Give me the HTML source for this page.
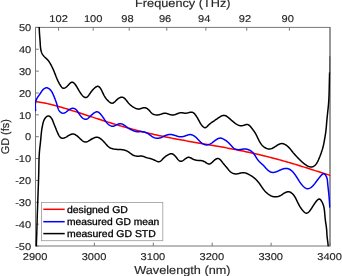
<!DOCTYPE html>
<html><head><meta charset="utf-8"><style>
html,body{margin:0;padding:0;background:#fff;width:342px;height:276px;overflow:hidden}
svg{display:block;will-change:transform;text-rendering:geometricPrecision;font-family:"Liberation Sans", sans-serif}
</style></head><body>
<svg width="342" height="276" viewBox="0 0 342 276">
<rect width="342" height="276" fill="#fff"/>
<defs><clipPath id="c"><rect x="35.0" y="26.9" width="295.5" height="219.6"/></clipPath></defs>
<g stroke="#777" stroke-width="1" fill="none">
<path d="M35.5,27.4 H330.0 M35.5,246.0 H330.0 M35.5,27.4 V246.0"/>
<path d="M330.0,26.9 V246.5" stroke-width="1.5"/>
<path d="M35.5,246.00 h3.3 M35.5,224.14 h3.3 M35.5,202.28 h3.3 M35.5,180.42 h3.3 M35.5,158.56 h3.3 M35.5,136.70 h3.3 M35.5,114.84 h3.3 M35.5,92.98 h3.3 M35.5,71.12 h3.3 M35.5,49.26 h3.3 M35.5,27.40 h3.3 M35.50,246.0 v-3.3 M94.40,246.0 v-3.3 M153.30,246.0 v-3.3 M212.20,246.0 v-3.3 M271.10,246.0 v-3.3 M330.00,246.0 v-3.3 M58.55,27.4 v3.3 M93.18,27.4 v3.3 M129.21,27.4 v3.3 M166.75,27.4 v3.3 M205.89,27.4 v3.3 M246.72,27.4 v3.3 M289.38,27.4 v3.3 "/>
</g>
<g clip-path="url(#c)" fill="none" stroke-width="1.5" stroke-linejoin="round" stroke-linecap="round">
<path d="M39.20,27.40 L39.22,27.90 L39.24,28.40 L39.26,28.90 L39.29,29.40 L39.31,29.90 L39.33,30.40 L39.36,30.89 L39.38,31.39 L39.41,31.89 L39.44,32.39 L39.46,32.89 L39.49,33.39 L39.52,33.89 L39.56,34.39 L39.59,34.89 L39.63,35.38 L39.67,35.88 L39.71,36.38 L39.75,36.88 L39.79,37.38 L39.83,37.87 L39.87,38.37 L39.91,38.87 L39.95,39.37 L39.99,39.87 L40.02,40.37 L40.06,40.86 L40.09,41.36 L40.12,41.86 L40.15,42.36 L40.18,42.86 L40.20,43.36 L40.23,43.86 L40.26,44.35 L40.29,44.85 L40.32,45.35 L40.36,45.85 L40.40,46.35 L40.44,46.85 L40.49,47.34 L40.55,47.84 L40.61,48.34 L40.69,48.83 L40.77,49.33 L40.86,49.82 L40.96,50.32 L41.08,50.81 L41.21,51.29 L41.35,51.78 L41.51,52.25 L41.69,52.72 L41.89,53.18 L42.11,53.62 L42.35,54.06 L42.61,54.49 L42.89,54.90 L43.19,55.30 L43.50,55.69 L43.83,56.08 L44.16,56.45 L44.51,56.81 L44.86,57.17 L45.22,57.52 L45.59,57.87 L45.95,58.21 L46.31,58.56 L46.67,58.90 L47.03,59.26 L47.37,59.61 L47.71,59.98 L48.04,60.35 L48.36,60.73 L48.66,61.13 L48.96,61.53 L49.24,61.94 L49.52,62.36 L49.78,62.79 L50.04,63.22 L50.30,63.65 L50.55,64.08 L50.79,64.52 L51.03,64.96 L51.27,65.40 L51.50,65.84 L51.72,66.29 L51.95,66.73 L52.17,67.18 L52.38,67.63 L52.59,68.08 L52.80,68.54 L53.01,68.99 L53.21,69.45 L53.41,69.91 L53.61,70.37 L53.81,70.83 L54.00,71.30 L54.19,71.76 L54.38,72.23 L54.56,72.70 L54.75,73.17 L54.93,73.64 L55.12,74.11 L55.30,74.58 L55.48,75.05 L55.67,75.52 L55.85,75.99 L56.03,76.46 L56.22,76.92 L56.41,77.39 L56.59,77.85 L56.78,78.31 L56.98,78.76 L57.17,79.21 L57.37,79.66 L57.57,80.11 L57.77,80.55 L57.97,80.98 L58.19,81.41 L58.40,81.84 L58.62,82.27 L58.85,82.70 L59.09,83.14 L59.33,83.57 L59.59,84.01 L59.85,84.45 L60.12,84.90 L60.41,85.36 L60.71,85.82 L61.02,86.28 L61.34,86.73 L61.68,87.15 L62.03,87.52 L62.40,87.83 L62.78,88.07 L63.18,88.22 L63.59,88.28 L64.02,88.24 L64.45,88.13 L64.90,87.94 L65.35,87.69 L65.80,87.39 L66.26,87.04 L66.71,86.65 L67.15,86.24 L67.59,85.81 L68.02,85.37 L68.44,84.92 L68.85,84.48 L69.25,84.06 L69.64,83.66 L70.03,83.29 L70.42,82.96 L70.80,82.68 L71.18,82.46 L71.55,82.30 L71.93,82.21 L72.31,82.21 L72.69,82.29 L73.07,82.44 L73.45,82.67 L73.82,82.96 L74.19,83.29 L74.56,83.68 L74.92,84.10 L75.27,84.55 L75.61,85.02 L75.94,85.51 L76.26,86.00 L76.57,86.49 L76.86,86.96 L77.14,87.43 L77.40,87.88 L77.66,88.32 L77.91,88.75 L78.15,89.17 L78.39,89.59 L78.62,90.00 L78.86,90.41 L79.10,90.82 L79.34,91.22 L79.59,91.63 L79.85,92.04 L80.12,92.45 L80.40,92.87 L80.69,93.30 L81.00,93.73 L81.33,94.18 L81.68,94.63 L82.05,95.08 L82.43,95.51 L82.82,95.93 L83.22,96.32 L83.62,96.68 L84.04,96.99 L84.45,97.25 L84.86,97.44 L85.28,97.56 L85.68,97.60 L86.08,97.56 L86.47,97.43 L86.86,97.22 L87.23,96.95 L87.60,96.62 L87.96,96.25 L88.31,95.83 L88.65,95.39 L88.99,94.93 L89.32,94.45 L89.64,93.98 L89.96,93.51 L90.26,93.06 L90.56,92.63 L90.86,92.22 L91.16,91.82 L91.45,91.44 L91.75,91.06 L92.06,90.69 L92.37,90.33 L92.70,89.96 L93.04,89.59 L93.39,89.21 L93.77,88.83 L94.16,88.44 L94.56,88.06 L94.98,87.69 L95.40,87.34 L95.83,87.03 L96.26,86.76 L96.68,86.54 L97.10,86.39 L97.51,86.31 L97.91,86.31 L98.29,86.39 L98.66,86.54 L99.02,86.76 L99.37,87.05 L99.70,87.38 L100.03,87.77 L100.34,88.20 L100.65,88.66 L100.94,89.15 L101.23,89.67 L101.51,90.20 L101.78,90.75 L102.04,91.30 L102.30,91.85 L102.55,92.39 L102.80,92.91 L103.04,93.42 L103.28,93.91 L103.52,94.39 L103.76,94.85 L103.99,95.30 L104.23,95.73 L104.47,96.16 L104.72,96.57 L104.97,96.98 L105.23,97.37 L105.50,97.76 L105.77,98.15 L106.06,98.53 L106.36,98.91 L106.67,99.28 L107.00,99.65 L107.34,100.02 L107.69,100.40 L108.07,100.77 L108.46,101.15 L108.88,101.52 L109.30,101.87 L109.73,102.21 L110.17,102.50 L110.61,102.76 L111.06,102.97 L111.49,103.11 L111.93,103.19 L112.35,103.19 L112.76,103.11 L113.16,102.96 L113.55,102.76 L113.94,102.49 L114.33,102.19 L114.72,101.84 L115.11,101.47 L115.50,101.08 L115.90,100.67 L116.30,100.26 L116.71,99.85 L117.14,99.45 L117.58,99.08 L118.03,98.72 L118.49,98.39 L118.95,98.10 L119.42,97.83 L119.89,97.61 L120.37,97.43 L120.83,97.29 L121.29,97.20 L121.75,97.17 L122.19,97.19 L122.62,97.26 L123.03,97.40 L123.44,97.59 L123.83,97.82 L124.21,98.10 L124.59,98.42 L124.95,98.76 L125.31,99.14 L125.67,99.54 L126.01,99.95 L126.36,100.38 L126.70,100.82 L127.04,101.26 L127.38,101.70 L127.72,102.13 L128.06,102.55 L128.40,102.96 L128.75,103.35 L129.10,103.72 L129.46,104.08 L129.82,104.43 L130.18,104.77 L130.55,105.09 L130.93,105.41 L131.32,105.71 L131.71,106.00 L132.11,106.29 L132.52,106.57 L132.94,106.85 L133.36,107.12 L133.80,107.38 L134.25,107.64 L134.71,107.89 L135.18,108.12 L135.65,108.34 L136.13,108.53 L136.61,108.70 L137.10,108.83 L137.58,108.94 L138.07,109.00 L138.56,109.02 L139.05,108.99 L139.54,108.92 L140.03,108.81 L140.51,108.67 L141.00,108.51 L141.48,108.35 L141.97,108.18 L142.45,108.02 L142.93,107.89 L143.42,107.78 L143.91,107.72 L144.40,107.70 L144.89,107.74 L145.38,107.84 L145.86,107.99 L146.33,108.18 L146.79,108.41 L147.23,108.67 L147.66,108.97 L148.06,109.29 L148.43,109.63 L148.79,109.98 L149.14,110.35 L149.47,110.73 L149.80,111.11 L150.13,111.49 L150.46,111.87 L150.79,112.24 L151.13,112.60 L151.49,112.94 L151.86,113.26 L152.25,113.56 L152.67,113.84 L153.10,114.08 L153.56,114.30 L154.03,114.49 L154.52,114.65 L155.01,114.78 L155.51,114.88 L156.02,114.95 L156.52,114.99 L157.02,115.00 L157.52,114.98 L158.02,114.93 L158.51,114.86 L159.00,114.77 L159.49,114.65 L159.97,114.52 L160.46,114.38 L160.94,114.22 L161.43,114.06 L161.91,113.89 L162.40,113.72 L162.88,113.56 L163.37,113.43 L163.85,113.32 L164.34,113.24 L164.82,113.20 L165.30,113.21 L165.79,113.27 L166.27,113.36 L166.76,113.48 L167.24,113.63 L167.73,113.79 L168.22,113.96 L168.71,114.14 L169.20,114.31 L169.69,114.46 L170.18,114.61 L170.67,114.74 L171.16,114.85 L171.65,114.93 L172.14,114.99 L172.63,115.01 L173.11,115.00 L173.60,114.95 L174.08,114.86 L174.55,114.74 L175.03,114.60 L175.50,114.43 L175.98,114.25 L176.45,114.06 L176.93,113.87 L177.41,113.68 L177.89,113.49 L178.37,113.31 L178.85,113.15 L179.34,113.00 L179.83,112.88 L180.31,112.78 L180.80,112.72 L181.29,112.70 L181.78,112.72 L182.27,112.76 L182.76,112.83 L183.25,112.92 L183.75,113.01 L184.24,113.09 L184.75,113.15 L185.25,113.19 L185.76,113.20 L186.27,113.17 L186.79,113.09 L187.31,112.99 L187.82,112.87 L188.34,112.74 L188.85,112.60 L189.36,112.47 L189.87,112.34 L190.36,112.25 L190.85,112.18 L191.32,112.14 L191.79,112.16 L192.23,112.23 L192.67,112.36 L193.08,112.56 L193.48,112.81 L193.87,113.11 L194.24,113.46 L194.60,113.84 L194.94,114.24 L195.27,114.67 L195.59,115.10 L195.90,115.54 L196.20,115.98 L196.48,116.42 L196.76,116.86 L197.03,117.29 L197.29,117.72 L197.55,118.15 L197.80,118.58 L198.04,119.01 L198.28,119.44 L198.52,119.87 L198.75,120.29 L198.98,120.72 L199.21,121.14 L199.44,121.57 L199.66,121.99 L199.89,122.41 L200.13,122.83 L200.38,123.25 L200.63,123.67 L200.90,124.08 L201.18,124.50 L201.49,124.91 L201.81,125.32 L202.15,125.73 L202.53,126.13 L202.92,126.53 L203.34,126.90 L203.77,127.22 L204.20,127.47 L204.64,127.64 L205.08,127.70 L205.50,127.64 L205.92,127.48 L206.32,127.23 L206.72,126.90 L207.12,126.53 L207.51,126.13 L207.90,125.72 L208.29,125.31 L208.67,124.93 L209.06,124.56 L209.45,124.22 L209.84,123.89 L210.23,123.58 L210.62,123.28 L211.01,122.99 L211.40,122.70 L211.79,122.43 L212.18,122.15 L212.58,121.88 L212.97,121.61 L213.37,121.34 L213.76,121.07 L214.16,120.80 L214.57,120.53 L214.97,120.25 L215.38,119.97 L215.79,119.69 L216.21,119.40 L216.63,119.11 L217.05,118.82 L217.48,118.53 L217.92,118.23 L218.36,117.92 L218.81,117.61 L219.26,117.31 L219.72,117.01 L220.18,116.72 L220.64,116.45 L221.11,116.20 L221.57,115.97 L222.04,115.77 L222.51,115.61 L222.97,115.48 L223.44,115.40 L223.90,115.37 L224.36,115.38 L224.81,115.46 L225.26,115.58 L225.71,115.76 L226.15,115.97 L226.58,116.22 L227.01,116.51 L227.44,116.81 L227.85,117.14 L228.27,117.47 L228.67,117.82 L229.07,118.16 L229.47,118.51 L229.85,118.84 L230.24,119.18 L230.62,119.51 L230.99,119.84 L231.37,120.16 L231.74,120.49 L232.11,120.81 L232.49,121.13 L232.86,121.44 L233.24,121.76 L233.62,122.07 L234.01,122.38 L234.40,122.70 L234.79,123.01 L235.19,123.31 L235.60,123.62 L236.02,123.91 L236.44,124.19 L236.87,124.45 L237.31,124.70 L237.76,124.92 L238.21,125.12 L238.68,125.30 L239.15,125.44 L239.63,125.56 L240.12,125.64 L240.61,125.69 L241.11,125.71 L241.62,125.70 L242.13,125.66 L242.64,125.59 L243.15,125.49 L243.66,125.36 L244.17,125.20 L244.67,125.04 L245.17,124.87 L245.67,124.72 L246.15,124.60 L246.63,124.51 L247.09,124.48 L247.55,124.51 L247.98,124.61 L248.41,124.78 L248.82,125.02 L249.21,125.30 L249.60,125.63 L249.97,126.00 L250.34,126.40 L250.69,126.81 L251.04,127.24 L251.38,127.68 L251.71,128.11 L252.04,128.54 L252.36,128.96 L252.67,129.37 L252.98,129.78 L253.28,130.18 L253.57,130.58 L253.86,130.97 L254.14,131.37 L254.41,131.77 L254.68,132.17 L254.94,132.58 L255.20,132.99 L255.44,133.41 L255.69,133.84 L255.92,134.27 L256.16,134.70 L256.38,135.14 L256.61,135.59 L256.83,136.04 L257.05,136.49 L257.27,136.94 L257.48,137.40 L257.70,137.85 L257.92,138.31 L258.14,138.76 L258.36,139.22 L258.58,139.67 L258.81,140.12 L259.04,140.57 L259.27,141.02 L259.51,141.46 L259.75,141.89 L260.01,142.32 L260.27,142.75 L260.54,143.17 L260.82,143.58 L261.11,143.99 L261.41,144.39 L261.72,144.78 L262.05,145.16 L262.40,145.53 L262.76,145.89 L263.13,146.24 L263.53,146.58 L263.94,146.91 L264.36,147.22 L264.80,147.51 L265.25,147.78 L265.71,148.03 L266.18,148.26 L266.65,148.46 L267.13,148.63 L267.62,148.78 L268.10,148.89 L268.59,148.96 L269.07,149.00 L269.55,149.00 L270.03,148.96 L270.50,148.88 L270.97,148.76 L271.44,148.62 L271.90,148.44 L272.37,148.24 L272.82,148.02 L273.28,147.78 L273.74,147.52 L274.19,147.24 L274.65,146.96 L275.10,146.67 L275.55,146.38 L276.01,146.08 L276.46,145.79 L276.91,145.50 L277.37,145.22 L277.82,144.95 L278.28,144.70 L278.74,144.46 L279.19,144.25 L279.65,144.06 L280.11,143.90 L280.57,143.77 L281.03,143.67 L281.50,143.61 L281.96,143.59 L282.43,143.62 L282.90,143.69 L283.37,143.80 L283.83,143.95 L284.30,144.13 L284.76,144.34 L285.21,144.58 L285.66,144.85 L286.10,145.14 L286.53,145.44 L286.95,145.76 L287.36,146.10 L287.76,146.44 L288.14,146.79 L288.51,147.15 L288.87,147.51 L289.22,147.87 L289.56,148.25 L289.89,148.62 L290.22,149.00 L290.53,149.38 L290.85,149.77 L291.16,150.15 L291.46,150.54 L291.77,150.93 L292.07,151.31 L292.38,151.70 L292.69,152.09 L293.00,152.47 L293.31,152.86 L293.63,153.24 L293.95,153.62 L294.28,153.99 L294.60,154.37 L294.94,154.74 L295.27,155.11 L295.61,155.48 L295.95,155.85 L296.29,156.21 L296.63,156.58 L296.98,156.94 L297.33,157.30 L297.68,157.66 L298.03,158.02 L298.38,158.38 L298.74,158.74 L299.09,159.09 L299.44,159.45 L299.80,159.80 L300.16,160.15 L300.52,160.50 L300.88,160.84 L301.25,161.19 L301.61,161.52 L301.98,161.86 L302.35,162.19 L302.73,162.52 L303.11,162.85 L303.49,163.17 L303.88,163.48 L304.27,163.79 L304.66,164.09 L305.06,164.39 L305.46,164.68 L305.88,164.96 L306.30,165.23 L306.72,165.49 L307.16,165.74 L307.61,165.97 L308.07,166.20 L308.54,166.40 L309.02,166.59 L309.50,166.75 L310.00,166.88 L310.49,166.97 L310.99,167.02 L311.48,167.02 L311.97,166.96 L312.45,166.84 L312.92,166.67 L313.38,166.46 L313.82,166.20 L314.25,165.91 L314.66,165.59 L315.05,165.25 L315.41,164.88 L315.75,164.51 L316.07,164.12 L316.37,163.71 L316.66,163.30 L316.92,162.88 L317.17,162.44 L317.41,162.00 L317.64,161.56 L317.86,161.11 L318.08,160.66 L318.29,160.20 L318.50,159.75 L318.70,159.29 L318.90,158.83 L319.10,158.37 L319.29,157.91 L319.48,157.45 L319.67,156.99 L319.86,156.53 L320.04,156.06 L320.22,155.59 L320.40,155.13 L320.57,154.66 L320.74,154.19 L320.91,153.72 L321.08,153.25 L321.25,152.78 L321.41,152.30 L321.57,151.83 L321.73,151.36 L321.89,150.88 L322.04,150.40 L322.19,149.93 L322.33,149.45 L322.48,148.97 L322.62,148.49 L322.75,148.01 L322.88,147.53 L323.01,147.04 L323.14,146.56 L323.26,146.08 L323.37,145.59 L323.49,145.10 L323.59,144.62 L323.70,144.13 L323.80,143.64 L323.90,143.15 L324.00,142.66 L324.09,142.17 L324.18,141.68 L324.27,141.18 L324.36,140.69 L324.44,140.20 L324.53,139.71 L324.61,139.21 L324.70,138.72 L324.78,138.23 L324.86,137.73 L324.95,137.24 L325.03,136.75 L325.11,136.25 L325.19,135.76 L325.27,135.27 L325.34,134.77 L325.42,134.28 L325.50,133.78 L325.57,133.29 L325.64,132.80 L325.71,132.30 L325.78,131.81 L325.84,131.31 L325.90,130.82 L325.96,130.32 L326.02,129.82 L326.07,129.33 L326.13,128.83 L326.18,128.33 L326.22,127.84 L326.27,127.34 L326.32,126.84 L326.36,126.34 L326.40,125.85 L326.44,125.35 L326.48,124.85 L326.52,124.35 L326.56,123.85 L326.60,123.35 L326.64,122.86 L326.68,122.36 L326.73,121.86 L326.77,121.36 L326.81,120.86 L326.86,120.37 L326.90,119.87 L326.95,119.37 L327.00,118.87 L327.05,118.38 L327.10,117.88 L327.15,117.38 L327.20,116.88 L327.25,116.39 L327.30,115.89 L327.36,115.39 L327.41,114.90 L327.46,114.40 L327.52,113.90 L327.57,113.40 L327.63,112.91 L327.68,112.41 L327.74,111.91 L327.79,111.42 L327.84,110.92 L327.90,110.42 L327.95,109.93 L328.00,109.43 L328.05,108.93 L328.10,108.44 L328.16,107.94 L328.21,107.44 L328.25,106.94 L328.30,106.45 L328.35,105.95 L328.39,105.45 L328.44,104.96 L328.48,104.46 L328.52,103.96 L328.56,103.46 L328.60,102.96 L328.64,102.47 L328.68,101.97 L328.71,101.47 L328.74,100.97 L328.77,100.47 L328.80,99.97 L328.83,99.48 L328.86,98.98 L328.89,98.48 L328.91,97.98 L328.93,97.48 L328.96,96.98 L328.98,96.48 L329.00,95.98 L329.02,95.48 L329.04,94.98 L329.06,94.48 L329.07,93.98 L329.09,93.48 L329.10,92.99 L329.12,92.49 L329.13,91.99 L329.15,91.49 L329.16,90.99 L329.17,90.49 L329.19,89.99 L329.20,89.49 L329.21,88.99 L329.22,88.49 L329.23,87.99 L329.25,87.49 L329.26,86.99 L329.27,86.49 L329.28,85.99 L329.29,85.49 L329.30,84.99 L329.31,84.49 L329.32,83.99 L329.33,83.49 L329.35,82.99 L329.36,82.49 L329.37,81.99 L329.38,81.49 L329.39,80.99 L329.40,80.49 L329.42,79.99 L329.43,79.49 L329.44,78.99 L329.45,78.49 L329.46,77.99 L329.48,77.49 L329.49,77.00 L329.50,76.50 L329.51,76.00 L329.53,75.50 L329.54,75.00 L329.55,74.50 L329.56,74.00 L329.58,73.50 L329.59,73.00 L329.60,72.50" stroke="#000"/>
<path d="M36.30,246.00 L36.32,245.50 L36.34,245.00 L36.36,244.50 L36.38,244.00 L36.39,243.50 L36.41,243.00 L36.43,242.50 L36.45,242.00 L36.47,241.51 L36.49,241.01 L36.51,240.51 L36.52,240.01 L36.54,239.51 L36.56,239.01 L36.58,238.51 L36.60,238.01 L36.61,237.51 L36.63,237.01 L36.65,236.51 L36.67,236.01 L36.68,235.51 L36.70,235.01 L36.72,234.51 L36.73,234.01 L36.75,233.51 L36.76,233.01 L36.78,232.52 L36.80,232.02 L36.81,231.52 L36.83,231.02 L36.84,230.52 L36.86,230.02 L36.87,229.52 L36.89,229.02 L36.90,228.52 L36.92,228.02 L36.93,227.52 L36.95,227.02 L36.96,226.52 L36.98,226.02 L36.99,225.52 L37.01,225.02 L37.02,224.52 L37.03,224.02 L37.05,223.52 L37.06,223.02 L37.08,222.52 L37.09,222.03 L37.11,221.53 L37.12,221.03 L37.14,220.53 L37.15,220.03 L37.16,219.53 L37.18,219.03 L37.19,218.53 L37.21,218.03 L37.22,217.53 L37.24,217.03 L37.25,216.53 L37.27,216.03 L37.28,215.53 L37.30,215.03 L37.31,214.53 L37.33,214.03 L37.35,213.53 L37.36,213.03 L37.38,212.53 L37.39,212.03 L37.41,211.54 L37.43,211.04 L37.44,210.54 L37.46,210.04 L37.48,209.54 L37.49,209.04 L37.51,208.54 L37.53,208.04 L37.55,207.54 L37.56,207.04 L37.58,206.54 L37.60,206.04 L37.61,205.54 L37.63,205.04 L37.65,204.54 L37.67,204.04 L37.69,203.54 L37.70,203.04 L37.72,202.54 L37.74,202.05 L37.76,201.55 L37.78,201.05 L37.79,200.55 L37.81,200.05 L37.83,199.55 L37.85,199.05 L37.87,198.55 L37.89,198.05 L37.90,197.55 L37.92,197.05 L37.94,196.55 L37.96,196.05 L37.98,195.55 L38.00,195.05 L38.02,194.55 L38.04,194.06 L38.05,193.56 L38.07,193.06 L38.09,192.56 L38.11,192.06 L38.13,191.56 L38.15,191.06 L38.17,190.56 L38.19,190.06 L38.20,189.56 L38.22,189.06 L38.24,188.56 L38.26,188.06 L38.28,187.56 L38.30,187.07 L38.31,186.57 L38.33,186.07 L38.35,185.57 L38.37,185.07 L38.38,184.57 L38.40,184.07 L38.42,183.57 L38.44,183.07 L38.45,182.57 L38.47,182.07 L38.49,181.57 L38.50,181.07 L38.52,180.57 L38.54,180.07 L38.55,179.57 L38.57,179.07 L38.58,178.58 L38.60,178.08 L38.61,177.58 L38.63,177.08 L38.64,176.58 L38.65,176.08 L38.67,175.58 L38.68,175.08 L38.69,174.58 L38.71,174.08 L38.72,173.58 L38.73,173.08 L38.74,172.58 L38.76,172.08 L38.77,171.58 L38.78,171.08 L38.79,170.58 L38.80,170.08 L38.81,169.58 L38.82,169.08 L38.83,168.58 L38.84,168.08 L38.84,167.58 L38.85,167.08 L38.86,166.58 L38.87,166.08 L38.88,165.58 L38.89,165.08 L38.90,164.58 L38.91,164.08 L38.92,163.58 L38.93,163.08 L38.94,162.58 L38.95,162.08 L38.97,161.58 L38.98,161.08 L38.99,160.58 L39.01,160.08 L39.02,159.58 L39.04,159.08 L39.06,158.58 L39.08,158.08 L39.10,157.58 L39.12,157.08 L39.14,156.58 L39.17,156.08 L39.19,155.59 L39.22,155.09 L39.25,154.59 L39.28,154.09 L39.31,153.59 L39.34,153.09 L39.38,152.59 L39.42,152.10 L39.46,151.60 L39.50,151.10 L39.54,150.60 L39.59,150.11 L39.64,149.61 L39.69,149.11 L39.74,148.61 L39.80,148.12 L39.85,147.62 L39.91,147.12 L39.96,146.63 L40.02,146.13 L40.08,145.63 L40.14,145.14 L40.20,144.64 L40.25,144.14 L40.31,143.65 L40.37,143.15 L40.42,142.65 L40.47,142.16 L40.52,141.66 L40.57,141.16 L40.62,140.67 L40.67,140.17 L40.72,139.67 L40.76,139.18 L40.81,138.68 L40.85,138.18 L40.89,137.68 L40.94,137.19 L40.98,136.69 L41.03,136.19 L41.07,135.69 L41.12,135.20 L41.17,134.70 L41.22,134.20 L41.27,133.70 L41.32,133.21 L41.38,132.71 L41.44,132.21 L41.50,131.71 L41.56,131.22 L41.63,130.72 L41.70,130.22 L41.77,129.73 L41.84,129.23 L41.92,128.73 L42.00,128.24 L42.08,127.74 L42.17,127.25 L42.26,126.76 L42.35,126.27 L42.44,125.78 L42.54,125.29 L42.64,124.81 L42.74,124.32 L42.84,123.84 L42.95,123.36 L43.07,122.88 L43.19,122.41 L43.33,121.93 L43.48,121.46 L43.65,121.00 L43.83,120.54 L44.04,120.08 L44.26,119.62 L44.51,119.17 L44.79,118.72 L45.09,118.28 L45.42,117.84 L45.79,117.42 L46.17,117.02 L46.58,116.65 L47.01,116.35 L47.45,116.11 L47.89,115.96 L48.34,115.90 L48.79,115.95 L49.23,116.11 L49.66,116.35 L50.08,116.66 L50.48,117.03 L50.86,117.44 L51.20,117.87 L51.52,118.31 L51.80,118.75 L52.05,119.20 L52.29,119.65 L52.50,120.10 L52.69,120.56 L52.87,121.01 L53.04,121.47 L53.21,121.93 L53.38,122.39 L53.55,122.86 L53.72,123.32 L53.90,123.78 L54.09,124.25 L54.28,124.71 L54.47,125.18 L54.67,125.64 L54.86,126.10 L55.06,126.56 L55.25,127.02 L55.45,127.48 L55.64,127.94 L55.82,128.40 L56.00,128.85 L56.18,129.30 L56.35,129.76 L56.53,130.21 L56.70,130.66 L56.88,131.12 L57.07,131.57 L57.26,132.03 L57.46,132.50 L57.66,132.96 L57.88,133.44 L58.11,133.91 L58.35,134.40 L58.61,134.88 L58.88,135.37 L59.16,135.84 L59.47,136.30 L59.79,136.72 L60.13,137.11 L60.48,137.46 L60.86,137.76 L61.26,138.00 L61.68,138.17 L62.12,138.26 L62.57,138.28 L63.05,138.24 L63.53,138.14 L64.03,137.99 L64.53,137.80 L65.03,137.58 L65.53,137.34 L66.03,137.08 L66.52,136.80 L67.00,136.53 L67.48,136.24 L67.96,135.96 L68.42,135.68 L68.89,135.42 L69.35,135.16 L69.80,134.92 L70.25,134.70 L70.70,134.50 L71.14,134.33 L71.58,134.19 L72.02,134.08 L72.46,134.02 L72.89,134.00 L73.32,134.02 L73.75,134.09 L74.18,134.20 L74.61,134.35 L75.03,134.54 L75.46,134.77 L75.88,135.02 L76.30,135.30 L76.72,135.61 L77.14,135.95 L77.56,136.30 L77.98,136.66 L78.40,137.04 L78.81,137.43 L79.23,137.83 L79.64,138.23 L80.05,138.64 L80.47,139.03 L80.88,139.43 L81.30,139.80 L81.71,140.17 L82.13,140.51 L82.55,140.83 L82.97,141.11 L83.40,141.37 L83.82,141.59 L84.25,141.77 L84.69,141.90 L85.13,141.98 L85.57,142.01 L86.01,141.98 L86.47,141.89 L86.92,141.76 L87.38,141.58 L87.83,141.37 L88.29,141.13 L88.75,140.86 L89.20,140.59 L89.65,140.31 L90.10,140.03 L90.54,139.75 L90.97,139.49 L91.40,139.24 L91.84,138.99 L92.27,138.76 L92.71,138.53 L93.15,138.31 L93.61,138.10 L94.07,137.89 L94.55,137.69 L95.03,137.52 L95.52,137.37 L96.01,137.27 L96.50,137.21 L96.99,137.20 L97.47,137.26 L97.95,137.37 L98.42,137.52 L98.89,137.72 L99.34,137.96 L99.79,138.22 L100.23,138.51 L100.65,138.81 L101.06,139.13 L101.46,139.45 L101.85,139.78 L102.22,140.12 L102.58,140.46 L102.94,140.81 L103.29,141.16 L103.63,141.52 L103.97,141.88 L104.30,142.25 L104.63,142.62 L104.96,142.99 L105.29,143.37 L105.62,143.75 L105.95,144.13 L106.28,144.51 L106.62,144.89 L106.97,145.26 L107.32,145.63 L107.68,145.98 L108.04,146.33 L108.42,146.65 L108.81,146.97 L109.21,147.26 L109.62,147.53 L110.05,147.78 L110.49,148.01 L110.95,148.22 L111.41,148.40 L111.89,148.56 L112.37,148.71 L112.86,148.84 L113.35,148.95 L113.85,149.05 L114.34,149.13 L114.84,149.20 L115.33,149.26 L115.83,149.32 L116.33,149.36 L116.83,149.40 L117.32,149.43 L117.82,149.45 L118.32,149.47 L118.82,149.49 L119.32,149.51 L119.83,149.53 L120.33,149.55 L120.83,149.58 L121.33,149.62 L121.82,149.66 L122.32,149.71 L122.82,149.78 L123.31,149.86 L123.80,149.96 L124.28,150.08 L124.77,150.21 L125.25,150.37 L125.72,150.54 L126.19,150.72 L126.65,150.92 L127.10,151.14 L127.54,151.38 L127.98,151.63 L128.41,151.89 L128.83,152.17 L129.24,152.46 L129.65,152.76 L130.05,153.06 L130.46,153.36 L130.86,153.66 L131.26,153.96 L131.67,154.25 L132.09,154.52 L132.51,154.78 L132.94,155.02 L133.38,155.25 L133.84,155.44 L134.30,155.62 L134.78,155.77 L135.26,155.89 L135.75,156.00 L136.25,156.08 L136.76,156.14 L137.26,156.18 L137.77,156.20 L138.28,156.20 L138.79,156.18 L139.30,156.15 L139.81,156.12 L140.31,156.09 L140.81,156.08 L141.31,156.07 L141.80,156.10 L142.29,156.15 L142.77,156.23 L143.24,156.36 L143.71,156.51 L144.18,156.69 L144.65,156.88 L145.11,157.07 L145.58,157.26 L146.05,157.45 L146.53,157.61 L147.01,157.76 L147.50,157.89 L147.98,158.02 L148.47,158.13 L148.96,158.25 L149.44,158.36 L149.92,158.48 L150.40,158.60 L150.87,158.73 L151.34,158.88 L151.80,159.04 L152.26,159.20 L152.72,159.38 L153.18,159.57 L153.65,159.77 L154.11,159.98 L154.58,160.20 L155.06,160.43 L155.54,160.67 L156.02,160.91 L156.51,161.13 L157.00,161.34 L157.48,161.51 L157.96,161.64 L158.42,161.71 L158.88,161.72 L159.33,161.66 L159.76,161.52 L160.18,161.31 L160.58,161.05 L160.98,160.74 L161.37,160.39 L161.75,160.02 L162.13,159.63 L162.50,159.23 L162.87,158.84 L163.24,158.45 L163.61,158.09 L163.98,157.74 L164.35,157.40 L164.73,157.08 L165.11,156.77 L165.49,156.47 L165.89,156.18 L166.29,155.89 L166.70,155.62 L167.13,155.35 L167.57,155.08 L168.02,154.82 L168.48,154.56 L168.95,154.33 L169.42,154.11 L169.90,153.94 L170.38,153.80 L170.85,153.72 L171.32,153.70 L171.77,153.75 L172.22,153.85 L172.65,154.02 L173.08,154.24 L173.49,154.51 L173.90,154.82 L174.30,155.17 L174.69,155.56 L175.08,155.97 L175.46,156.40 L175.84,156.85 L176.21,157.31 L176.58,157.78 L176.94,158.24 L177.31,158.70 L177.67,159.14 L178.03,159.56 L178.40,159.95 L178.77,160.30 L179.14,160.61 L179.52,160.88 L179.90,161.08 L180.29,161.22 L180.69,161.29 L181.10,161.29 L181.52,161.21 L181.95,161.06 L182.38,160.85 L182.82,160.60 L183.27,160.31 L183.72,160.00 L184.16,159.66 L184.61,159.32 L185.06,158.98 L185.51,158.65 L185.95,158.33 L186.40,158.05 L186.84,157.79 L187.29,157.58 L187.74,157.43 L188.19,157.33 L188.64,157.30 L189.09,157.34 L189.55,157.44 L190.01,157.59 L190.48,157.78 L190.94,158.00 L191.41,158.24 L191.88,158.50 L192.34,158.76 L192.82,159.01 L193.29,159.24 L193.76,159.45 L194.23,159.64 L194.71,159.81 L195.19,159.96 L195.67,160.09 L196.15,160.19 L196.64,160.28 L197.13,160.35 L197.62,160.40 L198.12,160.43 L198.62,160.45 L199.12,160.47 L199.63,160.48 L200.13,160.50 L200.62,160.54 L201.12,160.59 L201.60,160.67 L202.08,160.77 L202.55,160.90 L203.02,161.05 L203.49,161.24 L203.95,161.44 L204.41,161.67 L204.87,161.93 L205.33,162.20 L205.79,162.50 L206.25,162.79 L206.71,163.08 L207.16,163.35 L207.61,163.59 L208.06,163.78 L208.50,163.92 L208.93,163.99 L209.35,163.99 L209.77,163.90 L210.18,163.75 L210.59,163.54 L210.99,163.27 L211.40,162.96 L211.80,162.61 L212.21,162.24 L212.62,161.84 L213.03,161.44 L213.46,161.04 L213.89,160.64 L214.32,160.25 L214.77,159.89 L215.21,159.55 L215.66,159.25 L216.11,158.99 L216.56,158.78 L217.00,158.62 L217.44,158.52 L217.87,158.49 L218.29,158.53 L218.70,158.64 L219.10,158.83 L219.49,159.07 L219.87,159.36 L220.25,159.70 L220.61,160.08 L220.97,160.48 L221.33,160.91 L221.68,161.35 L222.02,161.80 L222.36,162.25 L222.70,162.70 L223.03,163.13 L223.36,163.54 L223.69,163.95 L224.01,164.34 L224.34,164.73 L224.66,165.11 L224.98,165.48 L225.30,165.85 L225.61,166.22 L225.93,166.58 L226.24,166.95 L226.55,167.32 L226.87,167.69 L227.18,168.07 L227.49,168.46 L227.80,168.85 L228.12,169.24 L228.43,169.63 L228.76,170.02 L229.09,170.41 L229.43,170.78 L229.78,171.14 L230.14,171.50 L230.51,171.83 L230.90,172.15 L231.30,172.44 L231.72,172.71 L232.16,172.96 L232.61,173.18 L233.08,173.37 L233.56,173.53 L234.05,173.66 L234.55,173.77 L235.05,173.84 L235.56,173.89 L236.07,173.90 L236.57,173.89 L237.07,173.84 L237.58,173.77 L238.07,173.68 L238.57,173.58 L239.07,173.46 L239.56,173.34 L240.05,173.21 L240.54,173.09 L241.03,172.98 L241.52,172.88 L242.01,172.80 L242.50,172.74 L242.98,172.70 L243.47,172.70 L243.95,172.73 L244.44,172.79 L244.92,172.89 L245.40,173.01 L245.88,173.15 L246.36,173.32 L246.83,173.51 L247.30,173.71 L247.77,173.93 L248.23,174.16 L248.69,174.39 L249.14,174.63 L249.59,174.87 L250.04,175.12 L250.47,175.37 L250.91,175.63 L251.33,175.89 L251.75,176.16 L252.17,176.44 L252.58,176.72 L252.98,177.00 L253.38,177.30 L253.78,177.60 L254.17,177.91 L254.55,178.22 L254.92,178.55 L255.30,178.88 L255.66,179.22 L256.02,179.57 L256.38,179.92 L256.72,180.28 L257.07,180.65 L257.40,181.02 L257.73,181.40 L258.06,181.78 L258.38,182.17 L258.69,182.56 L259.00,182.96 L259.30,183.36 L259.59,183.77 L259.88,184.18 L260.17,184.59 L260.45,185.00 L260.73,185.42 L261.01,185.83 L261.29,186.25 L261.57,186.66 L261.85,187.07 L262.13,187.49 L262.42,187.90 L262.71,188.30 L263.00,188.71 L263.30,189.11 L263.60,189.50 L263.91,189.89 L264.23,190.27 L264.55,190.65 L264.89,191.03 L265.23,191.39 L265.57,191.75 L265.93,192.11 L266.29,192.45 L266.66,192.79 L267.03,193.13 L267.42,193.45 L267.81,193.77 L268.21,194.08 L268.62,194.38 L269.03,194.68 L269.45,194.96 L269.88,195.22 L270.32,195.48 L270.77,195.71 L271.22,195.93 L271.68,196.13 L272.15,196.31 L272.63,196.46 L273.11,196.59 L273.60,196.70 L274.10,196.78 L274.61,196.83 L275.11,196.86 L275.62,196.86 L276.13,196.83 L276.64,196.78 L277.14,196.71 L277.64,196.61 L278.12,196.49 L278.60,196.34 L279.07,196.17 L279.53,195.98 L279.97,195.77 L280.41,195.55 L280.84,195.31 L281.26,195.06 L281.68,194.80 L282.10,194.53 L282.52,194.26 L282.95,193.98 L283.38,193.71 L283.82,193.44 L284.26,193.18 L284.72,192.92 L285.19,192.68 L285.66,192.46 L286.14,192.25 L286.63,192.08 L287.12,191.94 L287.61,191.84 L288.09,191.78 L288.58,191.78 L289.05,191.82 L289.52,191.92 L289.98,192.08 L290.43,192.28 L290.88,192.52 L291.30,192.80 L291.72,193.11 L292.12,193.45 L292.51,193.81 L292.88,194.19 L293.24,194.59 L293.57,194.99 L293.89,195.40 L294.20,195.82 L294.48,196.23 L294.75,196.66 L295.02,197.09 L295.26,197.52 L295.50,197.95 L295.74,198.39 L295.96,198.83 L296.18,199.27 L296.40,199.72 L296.61,200.17 L296.82,200.62 L297.04,201.07 L297.25,201.52 L297.47,201.97 L297.69,202.42 L297.91,202.87 L298.14,203.32 L298.37,203.77 L298.60,204.22 L298.84,204.66 L299.08,205.10 L299.32,205.53 L299.56,205.97 L299.81,206.39 L300.07,206.81 L300.32,207.22 L300.59,207.63 L300.86,208.03 L301.13,208.43 L301.42,208.83 L301.72,209.22 L302.02,209.61 L302.34,210.01 L302.68,210.40 L303.02,210.79 L303.39,211.18 L303.77,211.57 L304.16,211.96 L304.57,212.32 L304.99,212.64 L305.41,212.90 L305.84,213.09 L306.27,213.20 L306.69,213.20 L307.12,213.11 L307.54,212.93 L307.95,212.68 L308.35,212.36 L308.75,212.00 L309.13,211.59 L309.51,211.16 L309.87,210.70 L310.22,210.24 L310.55,209.78 L310.86,209.33 L311.16,208.89 L311.44,208.47 L311.72,208.05 L311.98,207.65 L312.24,207.25 L312.49,206.85 L312.74,206.45 L312.99,206.06 L313.25,205.66 L313.50,205.27 L313.76,204.86 L314.03,204.45 L314.31,204.03 L314.60,203.60 L314.91,203.16 L315.23,202.70 L315.57,202.22 L315.93,201.74 L316.30,201.27 L316.68,200.81 L317.08,200.38 L317.47,199.99 L317.87,199.65 L318.27,199.38 L318.67,199.19 L319.06,199.09 L319.44,199.09 L319.82,199.20 L320.18,199.42 L320.52,199.72 L320.85,200.10 L321.17,200.53 L321.47,201.01 L321.76,201.51 L322.02,202.03 L322.27,202.54 L322.50,203.04 L322.72,203.52 L322.91,203.99 L323.09,204.45 L323.26,204.91 L323.41,205.36 L323.55,205.82 L323.68,206.28 L323.79,206.75 L323.90,207.22 L324.00,207.70 L324.09,208.19 L324.18,208.68 L324.26,209.18 L324.33,209.68 L324.39,210.18 L324.45,210.68 L324.51,211.19 L324.56,211.69 L324.61,212.20 L324.66,212.71 L324.70,213.21 L324.75,213.72 L324.79,214.22 L324.83,214.72 L324.87,215.22 L324.92,215.72 L324.96,216.22 L325.01,216.72 L325.05,217.22 L325.10,217.71 L325.14,218.21 L325.19,218.70 L325.25,219.20 L325.30,219.69 L325.36,220.18 L325.42,220.68 L325.48,221.17 L325.55,221.66 L325.62,222.16 L325.69,222.65 L325.77,223.15 L325.84,223.64 L325.92,224.13 L326.00,224.63 L326.07,225.12 L326.15,225.62 L326.22,226.11 L326.29,226.61 L326.36,227.10 L326.42,227.60 L326.48,228.10 L326.53,228.59 L326.58,229.09 L326.62,229.59 L326.66,230.09 L326.69,230.59 L326.73,231.08 L326.76,231.58 L326.79,232.08 L326.81,232.58 L326.84,233.08 L326.87,233.58 L326.90,234.08 L326.94,234.58 L326.97,235.08 L327.01,235.57 L327.05,236.07 L327.10,236.57 L327.15,237.07 L327.20,237.56 L327.26,238.06 L327.33,238.55 L327.39,239.05 L327.46,239.55 L327.52,240.04 L327.59,240.54 L327.65,241.03 L327.72,241.53 L327.78,242.02 L327.83,242.52 L327.89,243.02 L327.94,243.51 L328.00,244.01 L328.05,244.51 L328.10,245.01 L328.15,245.50 L328.20,246.00" stroke="#000"/>
<path d="M329.9,73 L330,56.5" stroke="#444" stroke-width="1.2"/>
<path d="M35.50,101.44 L36.98,101.66 L38.46,101.89 L39.94,102.15 L41.42,102.41 L42.90,102.70 L44.38,103.00 L45.86,103.31 L47.34,103.64 L48.82,103.98 L50.30,104.33 L51.78,104.69 L53.26,105.07 L54.74,105.45 L56.22,105.85 L57.70,106.25 L59.18,106.66 L60.66,107.08 L62.14,107.51 L63.62,107.94 L65.10,108.38 L66.58,108.83 L68.06,109.28 L69.54,109.74 L71.02,110.20 L72.50,110.66 L73.98,111.13 L75.46,111.60 L76.94,112.08 L78.42,112.56 L79.90,113.03 L81.38,113.52 L82.86,114.00 L84.34,114.48 L85.82,114.96 L87.30,115.45 L88.78,115.93 L90.26,116.42 L91.74,116.90 L93.22,117.38 L94.70,117.86 L96.18,118.34 L97.66,118.82 L99.14,119.30 L100.62,119.77 L102.10,120.24 L103.58,120.71 L105.06,121.18 L106.54,121.65 L108.02,122.11 L109.49,122.57 L110.97,123.02 L112.45,123.47 L113.93,123.92 L115.41,124.36 L116.89,124.80 L118.37,125.24 L119.85,125.67 L121.33,126.10 L122.81,126.53 L124.29,126.95 L125.77,127.36 L127.25,127.78 L128.73,128.18 L130.21,128.59 L131.69,128.99 L133.17,129.38 L134.65,129.77 L136.13,130.15 L137.61,130.53 L139.09,130.91 L140.57,131.28 L142.05,131.65 L143.53,132.01 L145.01,132.37 L146.49,132.72 L147.97,133.07 L149.45,133.42 L150.93,133.76 L152.41,134.10 L153.89,134.43 L155.37,134.76 L156.85,135.08 L158.33,135.40 L159.81,135.72 L161.29,136.03 L162.77,136.34 L164.25,136.65 L165.73,136.95 L167.21,137.25 L168.69,137.54 L170.17,137.84 L171.65,138.13 L173.13,138.41 L174.61,138.69 L176.09,138.98 L177.57,139.25 L179.05,139.53 L180.53,139.80 L182.01,140.07 L183.49,140.34 L184.97,140.61 L186.45,140.87 L187.93,141.14 L189.41,141.40 L190.89,141.66 L192.37,141.92 L193.85,142.18 L195.33,142.44 L196.81,142.69 L198.29,142.95 L199.77,143.20 L201.25,143.46 L202.73,143.71 L204.21,143.97 L205.69,144.22 L207.17,144.48 L208.65,144.73 L210.13,144.99 L211.61,145.25 L213.09,145.50 L214.57,145.76 L216.05,146.02 L217.53,146.28 L219.01,146.54 L220.49,146.81 L221.97,147.07 L223.45,147.34 L224.93,147.61 L226.41,147.88 L227.89,148.15 L229.37,148.43 L230.85,148.71 L232.33,148.99 L233.81,149.27 L235.29,149.56 L236.77,149.85 L238.25,150.14 L239.73,150.44 L241.21,150.73 L242.69,151.04 L244.17,151.34 L245.65,151.65 L247.13,151.96 L248.61,152.28 L250.09,152.60 L251.57,152.92 L253.05,153.25 L254.53,153.58 L256.01,153.92 L257.48,154.26 L258.96,154.60 L260.44,154.95 L261.92,155.31 L263.40,155.66 L264.88,156.02 L266.36,156.39 L267.84,156.76 L269.32,157.13 L270.80,157.51 L272.28,157.90 L273.76,158.28 L275.24,158.68 L276.72,159.07 L278.20,159.47 L279.68,159.88 L281.16,160.29 L282.64,160.70 L284.12,161.12 L285.60,161.54 L287.08,161.97 L288.56,162.39 L290.04,162.83 L291.52,163.26 L293.00,163.70 L294.48,164.15 L295.96,164.59 L297.44,165.04 L298.92,165.50 L300.40,165.95 L301.88,166.41 L303.36,166.87 L304.84,167.34 L306.32,167.80 L307.80,168.27 L309.28,168.74 L310.76,169.21 L312.24,169.68 L313.72,170.15 L315.20,170.63 L316.68,171.10 L318.16,171.58 L319.64,172.05 L321.12,172.52 L322.60,173.00 L324.08,173.47 L325.56,173.94 L327.04,174.41 L328.52,174.87 L330.00,175.34" stroke="#f00"/>
<path d="M35.60,110.50 L35.56,109.99 L35.51,109.48 L35.47,108.97 L35.44,108.45 L35.40,107.94 L35.38,107.44 L35.35,106.93 L35.34,106.42 L35.33,105.92 L35.33,105.41 L35.34,104.91 L35.36,104.41 L35.40,103.92 L35.45,103.42 L35.51,102.93 L35.58,102.44 L35.68,101.96 L35.78,101.47 L35.91,101.00 L36.06,100.52 L36.22,100.05 L36.41,99.58 L36.61,99.12 L36.82,98.67 L37.06,98.23 L37.31,97.79 L37.57,97.37 L37.84,96.95 L38.12,96.53 L38.41,96.13 L38.70,95.72 L38.99,95.31 L39.29,94.91 L39.57,94.50 L39.85,94.08 L40.13,93.66 L40.40,93.24 L40.67,92.83 L40.95,92.41 L41.22,91.99 L41.50,91.58 L41.79,91.17 L42.09,90.77 L42.40,90.38 L42.72,90.00 L43.07,89.64 L43.43,89.29 L43.82,88.96 L44.24,88.66 L44.68,88.38 L45.14,88.14 L45.61,87.96 L46.10,87.84 L46.59,87.80 L47.07,87.84 L47.56,87.95 L48.03,88.13 L48.49,88.37 L48.94,88.64 L49.36,88.94 L49.75,89.27 L50.12,89.61 L50.47,89.97 L50.80,90.35 L51.10,90.74 L51.39,91.15 L51.67,91.56 L51.93,91.98 L52.18,92.42 L52.41,92.86 L52.64,93.30 L52.85,93.76 L53.06,94.21 L53.27,94.67 L53.46,95.14 L53.66,95.60 L53.85,96.06 L54.04,96.53 L54.23,96.99 L54.42,97.45 L54.60,97.92 L54.78,98.38 L54.97,98.85 L55.14,99.32 L55.32,99.78 L55.49,100.25 L55.66,100.72 L55.83,101.19 L56.00,101.66 L56.16,102.13 L56.32,102.61 L56.47,103.08 L56.63,103.56 L56.77,104.03 L56.92,104.51 L57.06,104.99 L57.19,105.48 L57.32,105.96 L57.45,106.45 L57.59,106.93 L57.72,107.41 L57.87,107.89 L58.03,108.37 L58.20,108.83 L58.40,109.30 L58.61,109.75 L58.85,110.19 L59.13,110.62 L59.43,111.04 L59.77,111.45 L60.15,111.83 L60.55,112.18 L60.97,112.49 L61.41,112.76 L61.87,112.97 L62.34,113.12 L62.82,113.19 L63.30,113.19 L63.78,113.12 L64.26,112.99 L64.73,112.80 L65.20,112.57 L65.65,112.30 L66.10,112.01 L66.52,111.71 L66.93,111.40 L67.33,111.09 L67.72,110.78 L68.11,110.46 L68.49,110.16 L68.89,109.86 L69.29,109.58 L69.71,109.31 L70.15,109.06 L70.61,108.83 L71.08,108.64 L71.57,108.48 L72.06,108.36 L72.56,108.30 L73.05,108.30 L73.55,108.37 L74.04,108.49 L74.52,108.67 L74.98,108.89 L75.42,109.16 L75.83,109.46 L76.21,109.79 L76.57,110.15 L76.90,110.52 L77.21,110.91 L77.50,111.32 L77.78,111.74 L78.05,112.16 L78.32,112.59 L78.58,113.02 L78.85,113.44 L79.13,113.86 L79.41,114.27 L79.70,114.68 L79.99,115.08 L80.29,115.48 L80.60,115.87 L80.92,116.26 L81.25,116.64 L81.58,117.02 L81.93,117.38 L82.29,117.74 L82.67,118.07 L83.07,118.37 L83.49,118.64 L83.94,118.87 L84.42,119.06 L84.92,119.20 L85.43,119.27 L85.93,119.28 L86.42,119.22 L86.89,119.07 L87.33,118.86 L87.75,118.59 L88.15,118.27 L88.54,117.93 L88.92,117.58 L89.29,117.22 L89.66,116.87 L90.02,116.52 L90.38,116.18 L90.74,115.84 L91.09,115.50 L91.45,115.16 L91.81,114.83 L92.17,114.50 L92.54,114.17 L92.93,113.84 L93.32,113.52 L93.74,113.20 L94.17,112.88 L94.61,112.59 L95.07,112.33 L95.53,112.11 L96.00,111.94 L96.47,111.83 L96.93,111.80 L97.39,111.85 L97.84,111.98 L98.28,112.18 L98.71,112.43 L99.13,112.73 L99.54,113.08 L99.94,113.45 L100.32,113.85 L100.69,114.26 L101.05,114.67 L101.38,115.09 L101.71,115.50 L102.02,115.91 L102.32,116.33 L102.61,116.74 L102.90,117.15 L103.17,117.56 L103.44,117.97 L103.71,118.38 L103.98,118.78 L104.25,119.19 L104.51,119.59 L104.78,120.00 L105.06,120.40 L105.33,120.81 L105.62,121.21 L105.91,121.61 L106.21,122.00 L106.53,122.39 L106.85,122.78 L107.18,123.15 L107.53,123.52 L107.89,123.87 L108.26,124.21 L108.65,124.54 L109.05,124.85 L109.48,125.14 L109.92,125.41 L110.37,125.66 L110.84,125.88 L111.32,126.06 L111.81,126.20 L112.29,126.28 L112.77,126.30 L113.24,126.25 L113.71,126.15 L114.16,125.99 L114.62,125.80 L115.08,125.58 L115.53,125.34 L116.00,125.10 L116.46,124.85 L116.94,124.62 L117.42,124.41 L117.92,124.22 L118.42,124.07 L118.92,123.95 L119.43,123.86 L119.94,123.80 L120.44,123.79 L120.94,123.81 L121.43,123.87 L121.91,123.97 L122.37,124.12 L122.82,124.31 L123.26,124.53 L123.69,124.78 L124.11,125.05 L124.52,125.34 L124.93,125.65 L125.34,125.96 L125.75,126.28 L126.15,126.59 L126.56,126.89 L126.98,127.19 L127.39,127.47 L127.81,127.75 L128.23,128.02 L128.66,128.28 L129.09,128.53 L129.52,128.78 L129.95,129.02 L130.39,129.25 L130.83,129.48 L131.28,129.71 L131.73,129.93 L132.18,130.15 L132.64,130.36 L133.10,130.58 L133.56,130.78 L134.03,130.97 L134.50,131.15 L134.97,131.31 L135.45,131.44 L135.93,131.55 L136.42,131.63 L136.91,131.68 L137.41,131.70 L137.90,131.70 L138.40,131.69 L138.91,131.67 L139.41,131.64 L139.92,131.62 L140.42,131.60 L140.93,131.60 L141.43,131.61 L141.94,131.63 L142.44,131.67 L142.94,131.73 L143.44,131.81 L143.93,131.91 L144.41,132.02 L144.89,132.16 L145.36,132.33 L145.82,132.51 L146.28,132.71 L146.73,132.93 L147.17,133.17 L147.60,133.42 L148.03,133.68 L148.46,133.95 L148.88,134.24 L149.29,134.52 L149.70,134.82 L150.11,135.11 L150.51,135.41 L150.92,135.70 L151.33,135.99 L151.74,136.27 L152.16,136.54 L152.58,136.80 L153.02,137.05 L153.46,137.28 L153.92,137.49 L154.39,137.68 L154.86,137.85 L155.35,138.00 L155.84,138.12 L156.34,138.21 L156.83,138.27 L157.33,138.30 L157.83,138.29 L158.33,138.26 L158.83,138.19 L159.32,138.10 L159.81,137.98 L160.29,137.84 L160.77,137.68 L161.25,137.50 L161.72,137.31 L162.18,137.11 L162.64,136.89 L163.09,136.68 L163.54,136.45 L163.99,136.23 L164.44,136.01 L164.89,135.79 L165.34,135.59 L165.80,135.39 L166.26,135.21 L166.74,135.05 L167.22,134.91 L167.71,134.79 L168.20,134.68 L168.70,134.60 L169.20,134.54 L169.70,134.51 L170.20,134.50 L170.70,134.51 L171.20,134.55 L171.69,134.61 L172.18,134.69 L172.67,134.78 L173.16,134.90 L173.64,135.02 L174.13,135.16 L174.61,135.31 L175.10,135.47 L175.58,135.63 L176.06,135.79 L176.54,135.95 L177.02,136.11 L177.51,136.26 L177.99,136.40 L178.47,136.52 L178.96,136.63 L179.45,136.72 L179.93,136.78 L180.42,136.81 L180.92,136.82 L181.41,136.80 L181.91,136.75 L182.40,136.68 L182.90,136.59 L183.39,136.48 L183.89,136.35 L184.38,136.20 L184.87,136.04 L185.36,135.87 L185.85,135.69 L186.33,135.51 L186.82,135.33 L187.30,135.17 L187.78,135.01 L188.27,134.87 L188.75,134.75 L189.23,134.66 L189.71,134.61 L190.19,134.59 L190.67,134.61 L191.16,134.68 L191.64,134.79 L192.11,134.94 L192.59,135.12 L193.05,135.33 L193.51,135.56 L193.96,135.83 L194.39,136.11 L194.82,136.41 L195.22,136.72 L195.62,137.04 L196.00,137.38 L196.36,137.72 L196.72,138.06 L197.06,138.42 L197.40,138.78 L197.74,139.14 L198.08,139.50 L198.41,139.87 L198.75,140.23 L199.09,140.60 L199.43,140.96 L199.79,141.32 L200.15,141.67 L200.53,142.02 L200.91,142.37 L201.32,142.70 L201.73,143.02 L202.16,143.32 L202.59,143.61 L203.04,143.87 L203.49,144.12 L203.95,144.33 L204.42,144.52 L204.89,144.67 L205.37,144.79 L205.86,144.86 L206.35,144.90 L206.84,144.90 L207.33,144.85 L207.82,144.77 L208.31,144.65 L208.79,144.50 L209.28,144.33 L209.75,144.13 L210.22,143.90 L210.67,143.66 L211.12,143.40 L211.56,143.13 L211.98,142.85 L212.39,142.56 L212.79,142.26 L213.18,141.96 L213.57,141.65 L213.95,141.35 L214.34,141.04 L214.73,140.73 L215.13,140.43 L215.53,140.13 L215.95,139.84 L216.37,139.55 L216.82,139.28 L217.27,139.02 L217.74,138.78 L218.21,138.56 L218.70,138.38 L219.18,138.24 L219.67,138.14 L220.16,138.09 L220.65,138.09 L221.13,138.15 L221.61,138.26 L222.08,138.42 L222.55,138.62 L223.01,138.84 L223.47,139.08 L223.91,139.33 L224.35,139.58 L224.78,139.84 L225.21,140.11 L225.62,140.38 L226.03,140.67 L226.43,140.96 L226.82,141.26 L227.21,141.57 L227.58,141.89 L227.95,142.22 L228.31,142.56 L228.67,142.91 L229.02,143.26 L229.37,143.62 L229.71,143.98 L230.06,144.35 L230.40,144.72 L230.74,145.10 L231.08,145.48 L231.42,145.86 L231.77,146.24 L232.12,146.61 L232.48,146.98 L232.84,147.34 L233.22,147.68 L233.60,148.00 L234.00,148.30 L234.41,148.57 L234.83,148.82 L235.27,149.03 L235.73,149.21 L236.20,149.36 L236.69,149.47 L237.19,149.56 L237.69,149.62 L238.20,149.65 L238.71,149.66 L239.23,149.65 L239.74,149.61 L240.24,149.56 L240.75,149.50 L241.25,149.42 L241.74,149.34 L242.23,149.26 L242.73,149.18 L243.22,149.11 L243.71,149.05 L244.20,149.01 L244.70,149.00 L245.20,149.01 L245.70,149.04 L246.19,149.10 L246.69,149.19 L247.18,149.30 L247.67,149.43 L248.16,149.58 L248.63,149.76 L249.10,149.95 L249.56,150.17 L250.01,150.41 L250.44,150.66 L250.87,150.94 L251.28,151.23 L251.68,151.53 L252.06,151.86 L252.44,152.20 L252.79,152.55 L253.13,152.91 L253.46,153.29 L253.77,153.68 L254.07,154.08 L254.36,154.49 L254.63,154.90 L254.90,155.32 L255.17,155.75 L255.43,156.18 L255.69,156.61 L255.95,157.04 L256.21,157.46 L256.47,157.89 L256.74,158.31 L257.02,158.73 L257.31,159.14 L257.60,159.55 L257.91,159.95 L258.22,160.34 L258.54,160.72 L258.86,161.10 L259.20,161.47 L259.54,161.84 L259.89,162.19 L260.25,162.54 L260.62,162.89 L260.99,163.22 L261.37,163.56 L261.74,163.89 L262.12,164.22 L262.49,164.55 L262.86,164.89 L263.22,165.23 L263.57,165.57 L263.92,165.93 L264.26,166.29 L264.59,166.65 L264.92,167.02 L265.25,167.39 L265.58,167.77 L265.92,168.14 L266.25,168.52 L266.60,168.89 L266.96,169.25 L267.32,169.62 L267.70,169.97 L268.09,170.32 L268.49,170.65 L268.90,170.96 L269.32,171.26 L269.75,171.52 L270.19,171.76 L270.64,171.97 L271.10,172.14 L271.57,172.27 L272.05,172.36 L272.53,172.41 L273.02,172.42 L273.52,172.40 L274.01,172.34 L274.51,172.26 L275.01,172.15 L275.51,172.01 L276.01,171.86 L276.51,171.69 L276.99,171.50 L277.47,171.31 L277.95,171.11 L278.41,170.90 L278.88,170.69 L279.33,170.48 L279.79,170.26 L280.24,170.05 L280.69,169.84 L281.14,169.64 L281.59,169.45 L282.05,169.26 L282.52,169.09 L282.98,168.93 L283.46,168.78 L283.95,168.65 L284.44,168.55 L284.93,168.47 L285.43,168.41 L285.93,168.40 L286.43,168.41 L286.93,168.47 L287.43,168.56 L287.92,168.69 L288.40,168.84 L288.87,169.03 L289.33,169.24 L289.78,169.47 L290.21,169.73 L290.63,170.00 L291.04,170.30 L291.43,170.61 L291.82,170.93 L292.18,171.27 L292.54,171.62 L292.89,171.99 L293.23,172.36 L293.56,172.74 L293.88,173.13 L294.19,173.53 L294.50,173.93 L294.80,174.34 L295.10,174.75 L295.39,175.16 L295.67,175.57 L295.95,175.99 L296.23,176.41 L296.50,176.83 L296.78,177.25 L297.04,177.67 L297.31,178.09 L297.58,178.51 L297.84,178.93 L298.10,179.35 L298.37,179.77 L298.63,180.19 L298.89,180.61 L299.16,181.02 L299.43,181.43 L299.70,181.84 L299.98,182.24 L300.26,182.65 L300.54,183.05 L300.84,183.45 L301.14,183.84 L301.45,184.24 L301.77,184.63 L302.10,185.02 L302.44,185.40 L302.80,185.78 L303.16,186.16 L303.54,186.54 L303.94,186.91 L304.34,187.25 L304.76,187.58 L305.19,187.88 L305.63,188.14 L306.07,188.36 L306.53,188.53 L306.99,188.65 L307.46,188.70 L307.93,188.70 L308.40,188.63 L308.88,188.51 L309.36,188.34 L309.82,188.12 L310.29,187.87 L310.74,187.59 L311.18,187.29 L311.61,186.96 L312.01,186.62 L312.40,186.27 L312.78,185.91 L313.14,185.54 L313.48,185.16 L313.82,184.78 L314.14,184.39 L314.45,184.00 L314.76,183.61 L315.05,183.22 L315.34,182.83 L315.63,182.44 L315.91,182.05 L316.19,181.67 L316.48,181.30 L316.76,180.92 L317.04,180.55 L317.33,180.18 L317.62,179.80 L317.91,179.42 L318.22,179.04 L318.53,178.65 L318.85,178.24 L319.18,177.83 L319.52,177.40 L319.87,176.96 L320.24,176.50 L320.62,176.03 L321.01,175.57 L321.41,175.14 L321.82,174.73 L322.23,174.38 L322.64,174.09 L323.05,173.89 L323.46,173.78 L323.86,173.77 L324.26,173.89 L324.64,174.13 L325.01,174.45 L325.36,174.85 L325.68,175.30 L325.98,175.79 L326.24,176.28 L326.47,176.76 L326.67,177.25 L326.84,177.74 L326.99,178.23 L327.11,178.71 L327.21,179.20 L327.30,179.68 L327.37,180.17 L327.43,180.66 L327.48,181.14 L327.53,181.63 L327.57,182.12 L327.61,182.61 L327.65,183.10 L327.70,183.59 L327.74,184.08 L327.79,184.57 L327.84,185.07 L327.89,185.56 L327.95,186.06 L328.00,186.55 L328.05,187.05 L328.11,187.55 L328.16,188.05 L328.22,188.54 L328.27,189.04 L328.33,189.54 L328.38,190.04 L328.44,190.54 L328.49,191.04 L328.54,191.54 L328.60,192.04 L328.65,192.54 L328.70,193.04 L328.75,193.54 L328.80,194.04 L328.85,194.54 L328.90,195.04 L328.95,195.54 L328.99,196.04 L329.04,196.54 L329.08,197.04 L329.12,197.54 L329.16,198.04 L329.20,198.54 L329.24,199.03 L329.28,199.53 L329.32,200.03 L329.36,200.53 L329.39,201.03 L329.43,201.53 L329.46,202.02 L329.50,202.52 L329.53,203.02 L329.57,203.52 L329.60,204.01 L329.63,204.51 L329.67,205.01 L329.70,205.51 L329.73,206.00 L329.77,206.50 L329.80,207.00" stroke="#00f"/>
</g>
<g font-family='"Liberation Sans", sans-serif' fill="#262626" stroke="#262626" stroke-width="0.15">
<text x="0" y="0" font-size="9.9" text-anchor="end" transform="translate(31.2,249.70) scale(1.122,1)">-50</text>
<text x="0" y="0" font-size="9.9" text-anchor="end" transform="translate(31.2,227.84) scale(1.122,1)">-40</text>
<text x="0" y="0" font-size="9.9" text-anchor="end" transform="translate(31.2,205.98) scale(1.122,1)">-30</text>
<text x="0" y="0" font-size="9.9" text-anchor="end" transform="translate(31.2,184.12) scale(1.122,1)">-20</text>
<text x="0" y="0" font-size="9.9" text-anchor="end" transform="translate(31.2,162.26) scale(1.122,1)">-10</text>
<text x="0" y="0" font-size="9.9" text-anchor="end" transform="translate(31.2,140.40) scale(1.122,1)">0</text>
<text x="0" y="0" font-size="9.9" text-anchor="end" transform="translate(31.2,118.54) scale(1.122,1)">10</text>
<text x="0" y="0" font-size="9.9" text-anchor="end" transform="translate(31.2,96.68) scale(1.122,1)">20</text>
<text x="0" y="0" font-size="9.9" text-anchor="end" transform="translate(31.2,74.82) scale(1.122,1)">30</text>
<text x="0" y="0" font-size="9.9" text-anchor="end" transform="translate(31.2,52.96) scale(1.122,1)">40</text>
<text x="0" y="0" font-size="9.9" text-anchor="end" transform="translate(31.2,31.10) scale(1.122,1)">50</text>
<text x="0" y="0" font-size="9.9" text-anchor="middle" transform="translate(35.10,259.7) scale(1.122,1)">2900</text>
<text x="0" y="0" font-size="9.9" text-anchor="middle" transform="translate(94.00,259.7) scale(1.122,1)">3000</text>
<text x="0" y="0" font-size="9.9" text-anchor="middle" transform="translate(152.90,259.7) scale(1.122,1)">3100</text>
<text x="0" y="0" font-size="9.9" text-anchor="middle" transform="translate(211.80,259.7) scale(1.122,1)">3200</text>
<text x="0" y="0" font-size="9.9" text-anchor="middle" transform="translate(270.70,259.7) scale(1.122,1)">3300</text>
<text x="0" y="0" font-size="9.9" text-anchor="middle" transform="translate(329.60,259.7) scale(1.122,1)">3400</text>
<text x="0" y="0" font-size="9.9" text-anchor="middle" transform="translate(58.55,21.8) scale(1.122,1)">102</text>
<text x="0" y="0" font-size="9.9" text-anchor="middle" transform="translate(93.18,21.8) scale(1.122,1)">100</text>
<text x="0" y="0" font-size="9.9" text-anchor="middle" transform="translate(127.51,21.8) scale(1.122,1)">98</text>
<text x="0" y="0" font-size="9.9" text-anchor="middle" transform="translate(165.05,21.8) scale(1.122,1)">96</text>
<text x="0" y="0" font-size="9.9" text-anchor="middle" transform="translate(204.19,21.8) scale(1.122,1)">94</text>
<text x="0" y="0" font-size="9.9" text-anchor="middle" transform="translate(245.02,21.8) scale(1.122,1)">92</text>
<text x="0" y="0" font-size="9.9" text-anchor="middle" transform="translate(287.68,21.8) scale(1.122,1)">90</text>
<text x="182.40" y="273.60" font-size="11.6" text-anchor="middle" textLength="96.2" lengthAdjust="spacingAndGlyphs">Wavelength (nm)</text>
<text x="182.85" y="7.30" font-size="11.6" text-anchor="middle" textLength="95.5" lengthAdjust="spacingAndGlyphs">Frequency (THz)</text>
<text x="0" y="0" font-size="11.2" text-anchor="middle" transform="translate(9.3,136.7) rotate(-90)" textLength="35" lengthAdjust="spacingAndGlyphs">GD (fs)</text>
</g>
<rect x="41.5" y="202.5" width="121.3" height="38.2" fill="#fff" stroke="#999" stroke-width="0.8"/>
<g stroke-width="1.5">
<path d="M43.3,209.3 H64.7" stroke="#f00"/>
<path d="M43.3,221.7 H64.7" stroke="#00f"/>
<path d="M43.3,233.6 H64.7" stroke="#000"/>
</g>
<g font-family='"Liberation Sans", sans-serif' fill="#000" stroke="#000" stroke-width="0.3" font-size="9.9">
<text x="67" y="213" textLength="60.9" lengthAdjust="spacingAndGlyphs">designed GD</text>
<text x="67" y="224.8" textLength="92.3" lengthAdjust="spacingAndGlyphs">measured GD mean</text>
<text x="67" y="236.6" textLength="88.8" lengthAdjust="spacingAndGlyphs">measured GD STD</text>
</g>
</svg>
</body></html>
